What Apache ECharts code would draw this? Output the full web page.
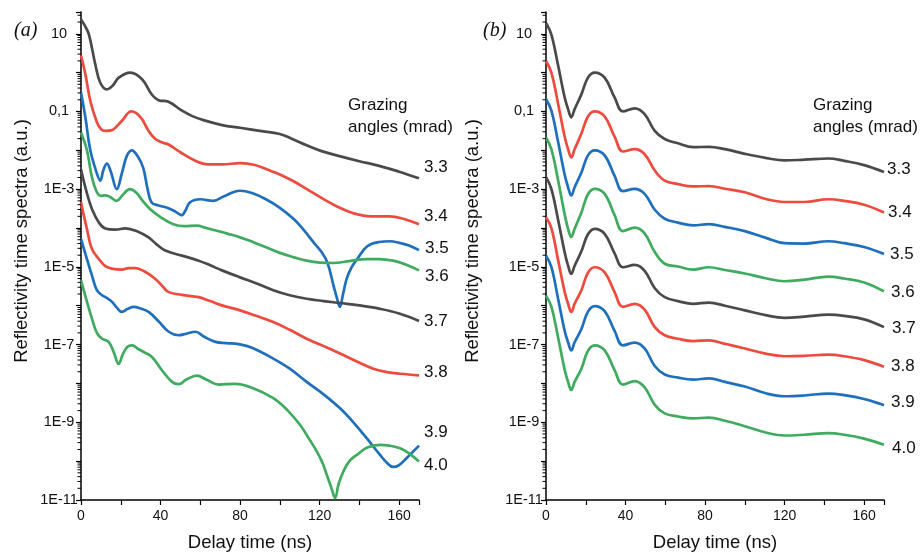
<!DOCTYPE html>
<html><head><meta charset="utf-8">
<script src="https://cdn.jsdelivr.net/npm/echarts@6/dist/echarts.min.js"></script>
<style>html,body{margin:0;padding:0;background:#fff}#c{width:922px;height:557px}</style>
</head><body><div id="c"></div>
<script>
// ---- data: [delay time (ns), log10(reflectivity)] ----
// panel (a)
const a33 = [[0,1.37],[2,1.2],[4,0.98],[7.2,0.21],[9.7,-0.26],[13,-0.43],[16,-0.33],[19,-0.13],[24.8,0],[30.7,-0.17],[35.7,-0.57],[39,-0.71],[44,-0.75],[50.8,-0.98],[56,-1.12],[62,-1.23],[71,-1.35],[80,-1.42],[90,-1.5],[100,-1.58],[106,-1.7],[113.5,-1.87],[121,-2.02],[130,-2.15],[140,-2.28],[150,-2.4],[160,-2.55],[170,-2.72]];
const a34 = [[0,0.44],[2.2,-0.04],[4.7,-0.73],[8,-1.28],[10,-1.45],[12.2,-1.5],[15.6,-1.48],[18,-1.38],[20.6,-1.24],[25.3,-1.0],[30,-1.15],[34,-1.5],[37.4,-1.71],[41,-1.8],[44,-1.85],[50,-2.05],[57.5,-2.27],[64,-2.36],[71,-2.36],[80,-2.33],[87,-2.37],[93.4,-2.49],[100,-2.62],[106.7,-2.79],[113,-2.98],[121.8,-3.25],[129,-3.45],[137,-3.62],[146,-3.7],[155,-3.7],[162,-3.76],[170,-3.9]];
const a35 = [[0,-0.51],[2.2,-1.15],[4.7,-2.0],[8,-2.6],[9.7,-2.78],[11.3,-2.5],[13,-2.34],[15,-2.55],[18,-3.0],[20.5,-2.6],[23,-2.15],[25.5,-2.0],[28.5,-2.15],[31.3,-2.45],[33.5,-3.0],[35.5,-3.34],[39,-3.42],[43,-3.47],[47,-3.56],[50.6,-3.67],[52.5,-3.55],[54.8,-3.34],[60,-3.26],[66.5,-3.3],[72,-3.18],[80,-3.04],[86,-3.1],[93,-3.26],[100,-3.48],[107,-3.77],[112,-4.05],[117,-4.37],[121,-4.62],[124,-4.9],[127,-5.48],[128.7,-5.8],[130.2,-6.03],[131.8,-5.7],[133.6,-5.31],[136,-5.02],[139,-4.79],[144,-4.47],[150,-4.36],[155.5,-4.34],[160,-4.38],[165,-4.45],[170,-4.57]];
const a36 = [[0,-1.54],[3,-2.0],[5.5,-2.69],[8,-3.08],[10,-3.17],[12,-3.16],[14.6,-3.2],[18,-3.3],[21,-3.15],[24.6,-3.0],[28,-3.1],[31,-3.3],[34.7,-3.51],[40,-3.72],[46.4,-3.9],[52,-3.95],[58.2,-3.94],[63,-4.0],[68.3,-4.07],[74,-4.15],[80,-4.24],[87,-4.37],[93.4,-4.5],[100,-4.64],[106.8,-4.75],[113.5,-4.84],[120,-4.89],[127,-4.9],[135,-4.85],[143.7,-4.8],[150,-4.8],[157,-4.84],[163,-4.93],[170,-5.09]];
const a37 = [[0,-2.49],[1.5,-2.82],[3.5,-3.2],[5.5,-3.51],[8.9,-3.85],[12.2,-4.01],[17.3,-4.04],[22.3,-4.01],[29,-4.1],[34,-4.24],[38,-4.42],[42.4,-4.58],[50.8,-4.71],[59.2,-4.84],[65,-4.96],[70.9,-5.09],[80,-5.27],[88,-5.42],[96.7,-5.6],[105,-5.73],[113.5,-5.82],[122,-5.88],[130.3,-5.93],[140,-5.99],[150.4,-6.08],[160,-6.2],[170,-6.39]];
const a38 = [[0,-3.34],[3,-4.03],[5.5,-4.54],[8.9,-4.79],[12.2,-4.98],[16,-5.05],[20.6,-5.07],[24,-5.03],[27.3,-5.03],[32,-5.12],[37.4,-5.31],[41,-5.5],[44.1,-5.65],[50.8,-5.72],[59.2,-5.78],[65,-5.88],[70.9,-5.99],[80,-6.12],[88,-6.26],[96.7,-6.42],[105,-6.62],[113.5,-6.85],[122,-7.04],[130.3,-7.23],[139,-7.44],[147,-7.62],[154,-7.71],[160.5,-7.75],[170,-7.79]];
const a39 = [[0,-4.28],[3,-4.8],[5.5,-5.22],[8,-5.6],[10.6,-5.73],[13,-5.8],[15.6,-5.9],[18,-6.05],[20.6,-6.16],[23.5,-6.08],[26.5,-6.03],[30,-6.07],[34,-6.16],[39,-6.4],[44.1,-6.67],[49.1,-6.76],[53,-6.72],[57.5,-6.67],[62,-6.8],[67.6,-6.93],[73,-6.96],[79.3,-6.99],[86,-7.08],[96.7,-7.36],[105,-7.62],[113.5,-7.96],[122,-8.28],[130.3,-8.64],[137,-9.0],[143.7,-9.41],[150.4,-9.84],[154,-10.05],[157.1,-10.15],[160,-10.1],[163.8,-9.92],[170,-9.6]];
const a40 = [[0,-5.35],[3,-5.9],[5.5,-6.33],[8,-6.7],[10.6,-6.85],[13.9,-6.93],[16.5,-7.2],[18.9,-7.5],[21,-7.25],[23.5,-7.05],[25.7,-7.02],[29,-7.12],[31.5,-7.19],[35.7,-7.32],[40.7,-7.66],[45.8,-7.96],[49.1,-8.02],[53,-7.9],[58.3,-7.8],[63,-7.9],[69.3,-8.03],[77.6,-8.01],[86,-8.11],[96.7,-8.38],[104,-8.7],[110.2,-9.07],[115,-9.45],[118.6,-9.75],[121.5,-10.05],[123.6,-10.35],[126,-10.7],[127.8,-10.95],[129.5,-10.6],[132,-10.26],[135,-10.0],[138.7,-9.84],[144,-9.65],[150.4,-9.58],[155,-9.6],[160.5,-9.67],[165,-9.8],[170,-10.01]];
// panel (b)
const timeB = [0,2.7,6,9.4,11.1,12.7,14.4,17.8,21.1,24.5,29.5,34.5,38.7,44.6,49.6,54.7,59.7,66.4,74,82,90,100,111,120,130,142,150,160,170];
const b33 = [1.28,0.98,0.21,-0.64,-0.94,-1.15,-0.94,-0.56,-0.13,0.0,-0.13,-0.64,-1.0,-0.92,-1.07,-1.5,-1.71,-1.82,-1.92,-1.91,-1.97,-2.09,-2.2,-2.26,-2.24,-2.21,-2.27,-2.38,-2.56];
const b34 = [0.3,0.0,-0.78,-1.65,-1.97,-2.18,-1.97,-1.57,-1.13,-1.0,-1.13,-1.65,-2.03,-1.97,-2.1,-2.52,-2.78,-2.87,-2.93,-2.92,-2.99,-3.08,-3.26,-3.33,-3.33,-3.26,-3.3,-3.4,-3.6];
const b35 = [-0.68,-0.98,-1.76,-2.63,-2.95,-3.16,-2.95,-2.57,-2.13,-2.0,-2.13,-2.66,-3.05,-2.99,-3.12,-3.53,-3.76,-3.86,-3.93,-3.9,-3.97,-4.08,-4.26,-4.39,-4.4,-4.34,-4.39,-4.49,-4.67];
const b36 = [-1.67,-1.97,-2.75,-3.65,-4.02,-4.23,-4.02,-3.6,-3.13,-2.99,-3.12,-3.67,-4.08,-3.99,-4.14,-4.62,-4.92,-4.99,-5.07,-5.01,-5.08,-5.17,-5.3,-5.37,-5.33,-5.25,-5.3,-5.4,-5.63];
const b37 = [-2.69,-2.99,-3.77,-4.63,-4.97,-5.18,-4.97,-4.6,-4.16,-4.02,-4.15,-4.65,-5.01,-4.95,-5.1,-5.55,-5.78,-5.88,-5.95,-5.92,-6.0,-6.12,-6.25,-6.31,-6.28,-6.23,-6.26,-6.35,-6.55];
const b38 = [-3.72,-4.0,-4.8,-5.65,-5.95,-6.16,-5.95,-5.6,-5.15,-5.01,-5.14,-5.65,-6.03,-5.95,-6.1,-6.55,-6.76,-6.85,-6.91,-6.89,-6.98,-7.1,-7.24,-7.3,-7.29,-7.26,-7.3,-7.4,-7.57];
const b39 = [-4.71,-5.0,-5.8,-6.65,-6.94,-7.15,-6.94,-6.6,-6.15,-6.01,-6.14,-6.65,-7.02,-6.95,-7.1,-7.55,-7.77,-7.85,-7.9,-7.87,-7.96,-8.08,-8.26,-8.33,-8.31,-8.26,-8.3,-8.4,-8.56];
const b40 = [-5.74,-6.02,-6.8,-7.65,-7.96,-8.17,-7.96,-7.62,-7.16,-7.02,-7.15,-7.66,-8.03,-7.94,-8.1,-8.55,-8.77,-8.85,-8.9,-8.88,-8.96,-9.1,-9.27,-9.34,-9.32,-9.28,-9.32,-9.42,-9.58];

const angleNames = ['3.3','3.4','3.5','3.6','3.7','3.8','3.9','4.0'];
const xTicksLabelled = [0,40,80,120,160];
const minorTickFactors = [2,3,4,5,6,7,8,9];
// ---- styling ----
const colors = ['#4a4a4a','#ef4a3e','#1f6fbf','#3eab5f','#4a4a4a','#ef4a3e','#1f6fbf','#3eab5f'];
const labelOffsetsA = [[0,-11],[0,-8],[1,-2],[1,6],[0,0],[0,-3],[0,-13],[0,4]];
const labelOffsetsB = [[-2,-3],[-1,0],[1,0],[2,1],[3,1],[2,0],[2,-3],[3,3]];
const Y_MIN = -11, Y_MAX = 1.56;
const FONT = 'Liberation Sans, Arial, sans-serif';

const seriesA = [a33,a34,a35,a36,a37,a38,a39,a40];
const seriesB = [b33,b34,b35,b36,b37,b38,b39,b40].map(v => v.map((y,i)=>[timeB[i], y]));

function yLabel(v){
  const r = Math.round(v);
  if (Math.abs(v - r) > 1e-6) return '';
  if ((r - Y_MIN) % 2 !== 0) return '';
  if (r === 1) return '10';
  if (r === -1) return '0,1';
  return '1E' + r;
}
function lineSeries(name, data, color, gi, off){
  return {
    type:'line', name, data, xAxisIndex:gi, yAxisIndex:gi,
    symbol:'none', showSymbol:false, smooth:0.4,
    lineStyle:{color, width:2.7}, itemStyle:{color},
    endLabel:{show:true, formatter:()=>name, color:'#111', fontSize:17, fontFamily:FONT, distance:5, offset:off},
    emphasis:{disabled:true}, animation:false, z:3
  };
}
function minorTickSeries(gi){
  const vals = [];
  for (let n = Y_MIN; n <= 1; n++) for (const f of minorTickFactors) {
    const v = n + Math.log10(f);
    if (v <= Y_MAX) vals.push([0, v]);
  }
  return {
    type:'custom', xAxisIndex:gi, yAxisIndex:gi, silent:true, clip:false, data:vals, z:5,
    renderItem:(p, api)=>{
      const pt = api.coord([api.value(0), api.value(1)]);
      return {type:'line', shape:{x1:pt[0]-3.5, y1:pt[1], x2:pt[0], y2:pt[1]}, style:{stroke:'#000', lineWidth:1}};
    }
  };
}
function xAxis(gi){
  return {
    type:'value', gridIndex:gi, min:0, max:170, interval:20,
    name:'Delay time (ns)', nameLocation:'middle', nameGap:33,
    nameTextStyle:{fontSize:18.5, color:'#111', fontFamily:FONT},
    axisLine:{show:true, onZero:false, lineStyle:{color:'#000', width:1.5}},
    axisTick:{show:true, length:5, lineStyle:{color:'#000', width:1.2}},
    axisLabel:{fontSize:14, color:'#111', fontFamily:FONT, margin:9,
      formatter:v => xTicksLabelled.includes(v) ? String(v) : ''},
    splitLine:{show:false}
  };
}
function yAxis(gi, gap){
  return {
    type:'value', gridIndex:gi, min:Y_MIN, max:Y_MAX, interval:1,
    name:'Reflectivity time spectra (a.u.)', nameLocation:'middle', nameGap:gap,
    nameTextStyle:{fontSize:18.5, color:'#111', fontFamily:FONT, padding:[0,0,0,30]},
    axisLine:{show:true, onZero:false, lineStyle:{color:'#000', width:1.5}},
    axisTick:{show:true, length:5, lineStyle:{color:'#000', width:1.2}},
    axisLabel:{fontSize:14.5, color:'#111', fontFamily:FONT, margin:22, align:'center', formatter:yLabel},
    splitLine:{show:false}
  };
}

const chart = echarts.init(document.getElementById('c'), null, {renderer:'canvas'});
const series = [];
seriesA.forEach((d,i)=>series.push(lineSeries(angleNames[i], d, colors[i], 0, labelOffsetsA[i])));
seriesB.forEach((d,i)=>series.push(lineSeries(angleNames[i], d, colors[i], 1, labelOffsetsB[i])));
series.push(minorTickSeries(0), minorTickSeries(1));

chart.setOption({
  animation:false,
  backgroundColor:'#fff',
  title:[
    {text:'(a)', left:9, top:16, textStyle:{fontFamily:'Liberation Serif, serif', fontStyle:'italic', fontWeight:'normal', fontSize:20, color:'#111'}},
    {text:'(b)', left:478, top:16, textStyle:{fontFamily:'Liberation Serif, serif', fontStyle:'italic', fontWeight:'normal', fontSize:20, color:'#111'}},
    {text:'Grazing\nangles (mrad)', left:343, top:89, textStyle:{fontFamily:FONT, fontWeight:'normal', fontSize:17, lineHeight:22, color:'#111'}},
    {text:'Grazing\nangles (mrad)', left:808, top:89, textStyle:{fontFamily:FONT, fontWeight:'normal', fontSize:17, lineHeight:22, color:'#111'}}
  ],
  grid:[
    {left:81, top:12, width:338, height:490},
    {left:546, top:12, width:338, height:490}
  ],
  xAxis:[xAxis(0), xAxis(1)],
  yAxis:[yAxis(0, 50), yAxis(1, 64)],
  series
});
</script></body></html>
